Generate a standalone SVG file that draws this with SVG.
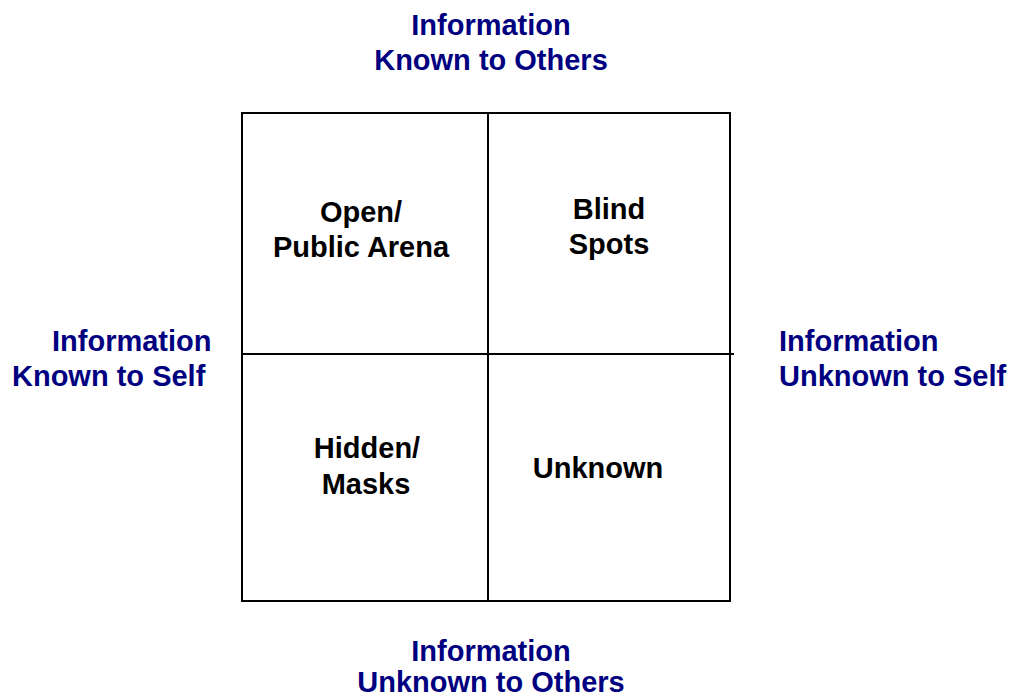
<svg xmlns="http://www.w3.org/2000/svg" width="1013" height="696" viewBox="0 0 1013 696">
<style>
.lbl{font-family:"Liberation Sans",Arial,sans-serif;font-weight:bold;font-size:29px;fill:#000080}
.cell{font-family:"Liberation Sans",Arial,sans-serif;font-weight:bold;font-size:29px;fill:#000000;text-anchor:middle}
.ln{stroke:#000;stroke-width:2;fill:none}
</style>
<rect width="1013" height="696" fill="#fff"/>
<g id="connectors">
<rect class="ln" x="242" y="113" width="488" height="488"/>
<line class="ln" x1="488" y1="113" x2="488" y2="601"/>
<line class="ln" x1="242" y1="354" x2="734" y2="354"/>
</g>
<g id="label-top"><text class="lbl" text-anchor="middle" x="491" y="35">Information</text><text class="lbl" text-anchor="middle" x="491" y="70">Known to Others</text></g>
<g id="label-left"><text class="lbl" x="52" y="351">Information</text><text class="lbl" x="12" y="386">Known to Self</text></g>
<g id="label-right"><text class="lbl" x="779" y="351">Information</text><text class="lbl" x="779" y="386">Unknown to Self</text></g>
<g id="label-bottom"><text class="lbl" text-anchor="middle" x="491" y="661">Information</text><text class="lbl" text-anchor="middle" x="491" y="692">Unknown to Others</text></g>
<g id="cell-open"><text class="cell" x="361" y="222">Open/</text><text class="cell" x="361" y="257">Public Arena</text></g>
<g id="cell-blind"><text class="cell" x="609" y="219">Blind</text><text class="cell" x="609" y="254">Spots</text></g>
<g id="cell-hidden"><text class="cell" x="367" y="458">Hidden/</text><text class="cell" x="366" y="494">Masks</text></g>
<g id="cell-unknown"><text class="cell" x="598" y="478">Unknown</text></g>
</svg>
